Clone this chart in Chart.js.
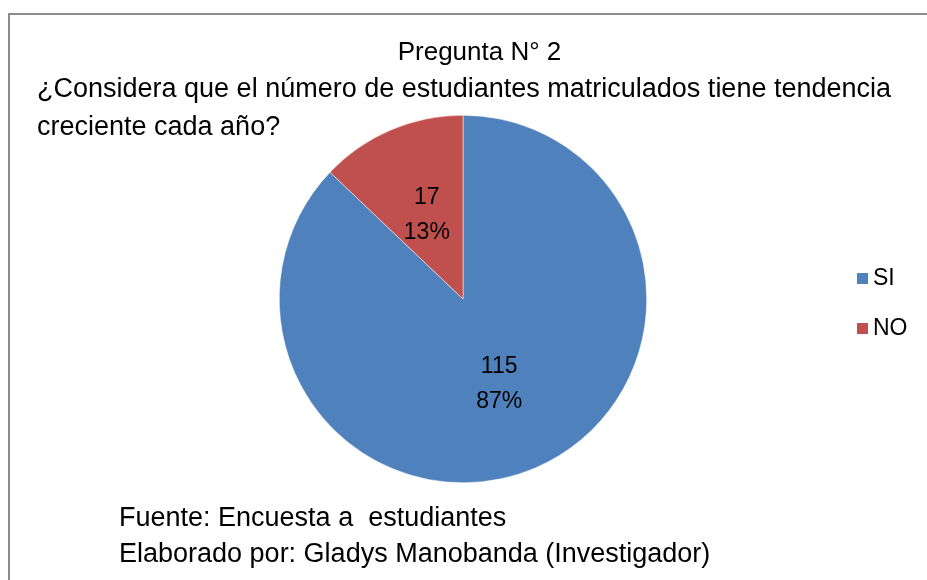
<!DOCTYPE html>
<html>
<head>
<meta charset="utf-8">
<script src="https://cdn.jsdelivr.net/npm/chart.js@4.4.1/dist/chart.umd.min.js"></script>
<style>
  html, body { margin: 0; padding: 0; background: #fff; }
  #wrap { position: relative; width: 927px; height: 580px; overflow: hidden; }
  #frame { position: absolute; left: 8px; top: 13px; width: 940px; height: 600px; border: 2px solid #8c8c8c; box-sizing: border-box; }
  canvas { position: absolute; left: 0; top: 0; }
  .txt { position: absolute; font-family: "Liberation Sans", Arial, sans-serif; color: #000; white-space: nowrap; }
  #t1 { left: 16px; width: 927px; text-align: center; top: 32px; font-size: 26px; line-height: 38px; }
  #t2 { left: 37px; top: 69px; font-size: 27px; line-height: 38px; }
  #foot { left: 119px; top: 499px; font-size: 27px; line-height: 36px; }
  #legend { position: absolute; left: 857px; top: 262px; font-family: "Liberation Sans", sans-serif; font-size: 23px; }
  #legend div { height: 50px; line-height: 30px; }
  #legend span.box { display: inline-block; width: 11px; height: 11px; margin-right: 5px; vertical-align: 1px; }
</style>
</head>
<body>
<div id="wrap">
  <div id="frame"></div>
  <canvas id="grafico" width="927" height="580"></canvas>
  <div class="txt" id="t1">Pregunta N° 2</div>
  <div class="txt" id="t2">¿Considera que el número de estudiantes matriculados tiene tendencia<br>creciente cada año?</div>
  <div class="txt" id="foot">Fuente: Encuesta a&nbsp; estudiantes<br>Elaborado por: Gladys Manobanda (Investigador)</div>
  <div id="legend"></div>
</div>
<script>
const categorias = ['SI', 'NO'];
const valores = [115, 17];
const porcentajes = ['87%', '13%'];
const cores = ['#4F81BD', '#C0504D'];

// rótulos dentro das fatias (valor + porcentagem)
const rotulosPlugin = {
  id: 'rotulos',
  afterDatasetsDraw(chart) {
    const ctx = chart.ctx;
    const meta = chart.getDatasetMeta(0);
    ctx.save();
    ctx.fillStyle = '#000';
    ctx.font = '23px "Liberation Sans", sans-serif';
    ctx.textAlign = 'center';
    ctx.textBaseline = 'middle';
    meta.data.forEach((arc, i) => {
      const p = arc.tooltipPosition();
      ctx.fillText(String(valores[i]), p.x, p.y - 17);
      ctx.fillText(porcentajes[i], p.x, p.y + 18);
    });
    ctx.restore();
  }
};

new Chart(document.getElementById('grafico').getContext('2d'), {
  type: 'pie',
  data: {
    labels: categorias,
    datasets: [{
      data: valores,
      backgroundColor: cores,
      borderColor: '#ffffff',
      borderWidth: 0.5
    }]
  },
  options: {
    responsive: false,
    animation: false,
    layout: { padding: { top: 115, bottom: 97, left: 279, right: 280 } },
    plugins: {
      legend: { display: false },
      tooltip: { enabled: false }
    }
  },
  plugins: [rotulosPlugin]
});

document.getElementById('legend').innerHTML = categorias.map((c, i) =>
  `<div><span class="box" style="background:${cores[i]}"></span>${c}</div>`
).join('');
</script>
</body>
</html>
